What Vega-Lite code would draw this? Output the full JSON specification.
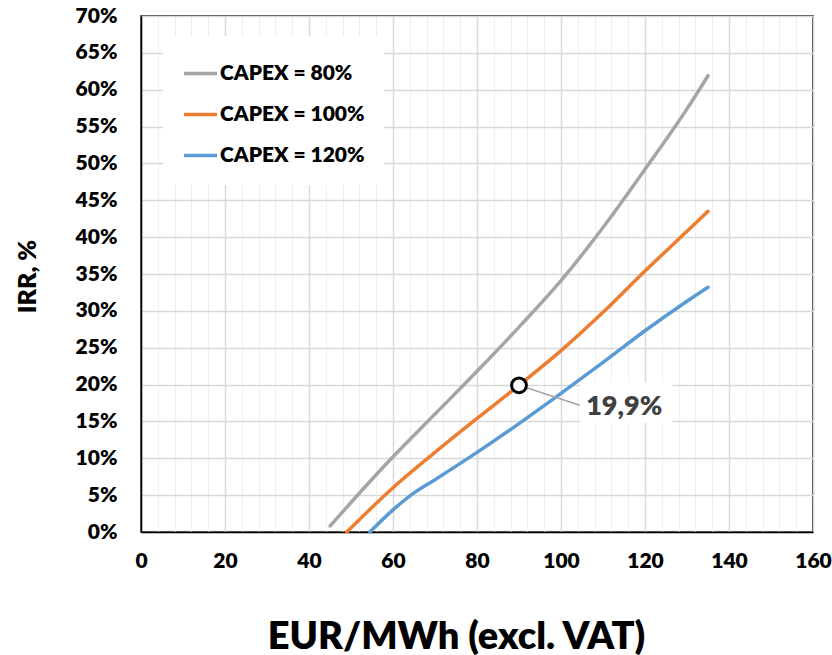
{
  "$schema": "https://vega.github.io/schema/vega-lite/v6.json",
  "width": 672,
  "height": 516,
  "autosize": {"type": "none"},
  "padding": {"left": 141, "top": 16, "right": 19, "bottom": 123},
  "background": "white",
  "config": {
    "font": "Lato",
    "view": {"stroke": "#000000", "strokeWidth": 1.5}
  },
  "datasets": {
    "curves": [
      {"price": 45, "irr": 0.008, "series": "CAPEX = 80%"},
      {"price": 50, "irr": 0.040, "series": "CAPEX = 80%"},
      {"price": 60, "irr": 0.102, "series": "CAPEX = 80%"},
      {"price": 70, "irr": 0.160, "series": "CAPEX = 80%"},
      {"price": 80, "irr": 0.218, "series": "CAPEX = 80%"},
      {"price": 90, "irr": 0.278, "series": "CAPEX = 80%"},
      {"price": 100, "irr": 0.341, "series": "CAPEX = 80%"},
      {"price": 110, "irr": 0.413, "series": "CAPEX = 80%"},
      {"price": 120, "irr": 0.492, "series": "CAPEX = 80%"},
      {"price": 130, "irr": 0.574, "series": "CAPEX = 80%"},
      {"price": 135, "irr": 0.619, "series": "CAPEX = 80%"},
      {"price": 49, "irr": 0.0, "series": "CAPEX = 100%"},
      {"price": 60, "irr": 0.060, "series": "CAPEX = 100%"},
      {"price": 70, "irr": 0.108, "series": "CAPEX = 100%"},
      {"price": 80, "irr": 0.154, "series": "CAPEX = 100%"},
      {"price": 90, "irr": 0.199, "series": "CAPEX = 100%"},
      {"price": 100, "irr": 0.246, "series": "CAPEX = 100%"},
      {"price": 110, "irr": 0.298, "series": "CAPEX = 100%"},
      {"price": 120, "irr": 0.354, "series": "CAPEX = 100%"},
      {"price": 130, "irr": 0.408, "series": "CAPEX = 100%"},
      {"price": 135, "irr": 0.435, "series": "CAPEX = 100%"},
      {"price": 54.5, "irr": 0.0, "series": "CAPEX = 120%"},
      {"price": 60, "irr": 0.030, "series": "CAPEX = 120%"},
      {"price": 65, "irr": 0.053, "series": "CAPEX = 120%"},
      {"price": 70, "irr": 0.071, "series": "CAPEX = 120%"},
      {"price": 80, "irr": 0.108, "series": "CAPEX = 120%"},
      {"price": 90, "irr": 0.147, "series": "CAPEX = 120%"},
      {"price": 100, "irr": 0.188, "series": "CAPEX = 120%"},
      {"price": 110, "irr": 0.230, "series": "CAPEX = 120%"},
      {"price": 120, "irr": 0.273, "series": "CAPEX = 120%"},
      {"price": 130, "irr": 0.313, "series": "CAPEX = 120%"},
      {"price": 135, "irr": 0.332, "series": "CAPEX = 120%"}
    ],
    "annotation": [
      {"price": 90, "irr": 0.199, "label": "19,9%", "lineEndPrice": 104.5, "lineEndIrr": 0.172, "labelPrice": 106.0, "labelIrr": 0.170, "boxLeft": 104.5, "boxRight": 126.5, "boxBottom": 0.148, "boxTop": 0.203}
    ]
  },
  "layer": [
    {
      "data": {"name": "curves"},
      "mark": {"type": "line", "strokeWidth": 3.5, "strokeCap": "round", "interpolate": "monotone"},
      "encoding": {
        "x": {
          "field": "price", "type": "quantitative",
          "scale": {"domain": [0, 160], "nice": false, "zero": false},
          "axis": {
            "title": "EUR/MWh (excl. VAT)",
            "values": [0,4,8,12,16,20,24,28,32,36,40,44,48,52,56,60,64,68,72,76,80,84,88,92,96,100,104,108,112,116,120,124,128,132,136,140,144,148,152,156,160],
            "tickCount": 100,
            "labelExpr": "datum.value % 20 === 0 ? datum.value : ''",
            "labelFont": "Lato", "labelFontSize": 21, "labelFontWeight": 800, "labelColor": "#000000",
            "labelPadding": 18, "labelOverlap": false, "labelFlush": false,
            "ticks": false,
            "domainColor": "#000000", "domainWidth": 1.5,
            "grid": true,
            "gridColor": {"condition": {"test": "datum.value % 20 === 0", "value": "#d9d9d9"}, "value": "#efefef"},
            "gridWidth": {"condition": {"test": "datum.value % 20 === 0", "value": 1.5}, "value": 1},
            "titleFont": "Lato", "titleFontSize": 38, "titleFontWeight": 800, "titleColor": "#000000",
            "titleX": 315, "titleY": 105, "titleBaseline": "middle", "titleAlign": "center"
          }
        },
        "y": {
          "field": "irr", "type": "quantitative",
          "scale": {"domain": [0, 0.7], "nice": false},
          "axis": {
            "title": "IRR, %",
            "values": [0,0.05,0.1,0.15,0.2,0.25,0.3,0.35,0.4,0.45,0.5,0.55,0.6,0.65,0.7],
            "tickCount": 50,
            "format": ".0%",
            "labelFont": "Lato", "labelFontSize": 21, "labelFontWeight": 800, "labelColor": "#000000",
            "labelPadding": 24, "labelOverlap": false, "labelFlush": false,
            "ticks": false,
            "domainColor": "#000000", "domainWidth": 1.5,
            "grid": true, "gridColor": "#d9d9d9", "gridWidth": 1.5,
            "titleFont": "Lato", "titleFontSize": 25, "titleFontWeight": 800, "titleColor": "#000000",
            "titleX": -114, "titleY": 260, "titleAngle": -90, "titleBaseline": "middle", "titleAlign": "center"
          }
        },
        "color": {
          "field": "series", "type": "nominal",
          "scale": {
            "domain": ["CAPEX = 80%", "CAPEX = 100%", "CAPEX = 120%"],
            "range": ["#a5a5a5", "#ed7d31", "#5b9bd5"]
          },
          "legend": {
            "title": null,
            "orient": "none",
            "legendX": 22,
            "legendY": 20,
            "fillColor": "white",
            "padding": 19,
            "symbolType": "stroke",
            "symbolSize": 1089,
            "symbolStrokeWidth": 3.5,
            "labelFont": "Lato", "labelFontSize": 21, "labelFontWeight": 800, "labelColor": "#000000",
            "labelOffset": 1,
            "rowPadding": 12
          }
        }
      }
    },
    {
      "data": {"name": "annotation"},
      "mark": {"type": "rule", "color": "#a5a5a5", "strokeWidth": 1.5},
      "encoding": {
        "x": {"field": "price", "type": "quantitative"},
        "y": {"field": "irr", "type": "quantitative"},
        "x2": {"field": "lineEndPrice"},
        "y2": {"field": "lineEndIrr"}
      }
    },
    {
      "data": {"name": "annotation"},
      "mark": {"type": "rect", "fill": "white"},
      "encoding": {
        "x": {"field": "boxLeft", "type": "quantitative"},
        "x2": {"field": "boxRight"},
        "y": {"field": "boxBottom", "type": "quantitative"},
        "y2": {"field": "boxTop"}
      }
    },
    {
      "data": {"name": "annotation"},
      "mark": {"type": "text", "font": "Lato", "fontSize": 27, "fontWeight": 800, "color": "#404040", "align": "left", "baseline": "middle"},
      "encoding": {
        "x": {"field": "labelPrice", "type": "quantitative"},
        "y": {"field": "labelIrr", "type": "quantitative"},
        "text": {"field": "label"}
      }
    },
    {
      "data": {"name": "annotation"},
      "mark": {"type": "point", "shape": "circle", "size": 220, "filled": false, "stroke": "#000000", "strokeWidth": 3, "fill": "white", "fillOpacity": 1, "opacity": 1},
      "encoding": {
        "x": {"field": "price", "type": "quantitative"},
        "y": {"field": "irr", "type": "quantitative"}
      }
    }
  ]
}
